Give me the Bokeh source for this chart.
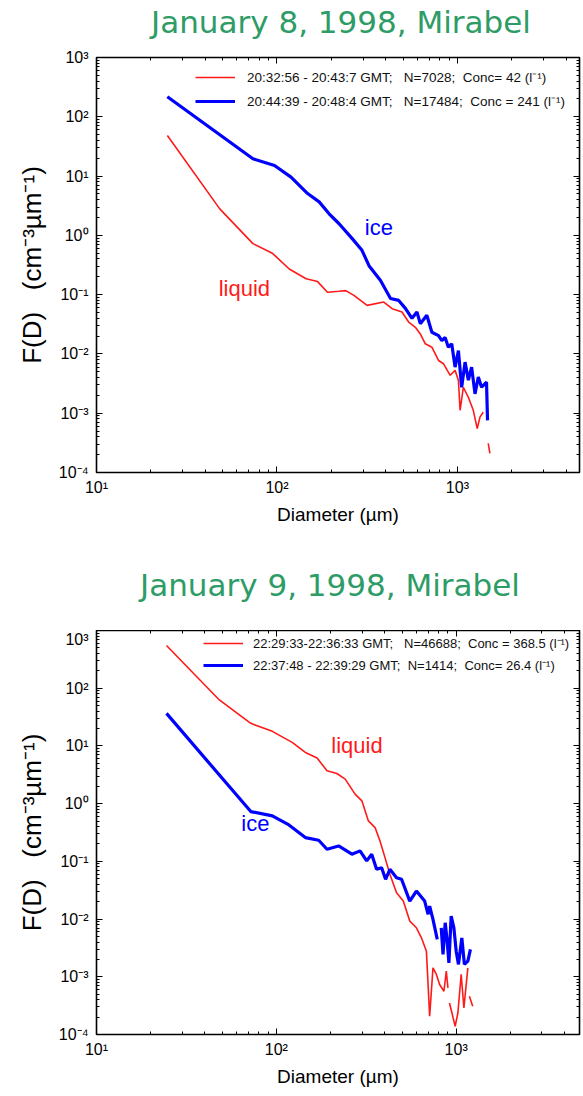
import math
from bokeh.plotting import figure
from bokeh.layouts import column
from bokeh.models import (FixedTicker, CustomJSTickFormatter, LogAxis, Legend, LegendItem,
                          Label, Div)
from bokeh.embed import file_html
from bokeh.resources import INLINE

nan = float("nan")

# ---------------- data: January 8, 1998 ----------------
ice_d_jan8 = [24.7, 73.6, 96.9, 119.7, 147.9, 171.4, 194.6, 221, 260.6, 296, 323.6, 375, 426, 473,
              515, 560, 597, 623, 677, 722, 786, 820, 855, 891, 930, 971, 1013, 1056, 1103, 1150,
              1199, 1252, 1306, 1361, 1450, 1469]
ice_f_jan8 = [218, 19.6, 15.1, 9.6, 5.07, 3.67, 2.31, 1.57, 0.889, 0.559, 0.308, 0.173, 0.0863,
              0.0799, 0.0587, 0.0399, 0.0510, 0.0324, 0.0449, 0.0232, 0.0204, 0.0168, 0.0190,
              0.0130, 0.0148, 0.00600, 0.0114, 0.00274, 0.00727, 0.00360, 0.00600, 0.00212,
              0.00408, 0.00274, 0.00335, 0.000758]
liq_d_jan8 = [24.7, 48.2, 73.6, 94.8, 117, 145, 168, 190.5, 221, 240.5, 267, 316, 391, 435, 493,
              537, 585, 623, 664, 722, 786, 837, 912, 971, 1013, 1035, 1079, 1150, 1225, 1288,
              1334, 1390, nan, 1482, 1514]
liq_f_jan8 = [48.4, 2.80, 0.725, 0.493, 0.271, 0.185, 0.166, 0.110, 0.114, 0.117, 0.0970,
              0.0659, 0.0749, 0.0580, 0.0510, 0.0345, 0.0281, 0.0217, 0.0148, 0.0130, 0.00776,
              0.00684, 0.00436, 0.00528, 0.00360, 0.00112, 0.00274, 0.00186, 0.00112, 0.000550,
              0.000860, 0.00104, nan, 0.000310, 0.000211]

# ---------------- data: January 9, 1998 ----------------
liq_d_jan9 = [24.5, 48.2, 72.1, 95.0, 122.5, 145, 168.5, 191.3, 217, 241.5, 274, 299, 325, 354,
              377, 402, 428, 466, 508, 552, 601, 641, 683, 712, 743, 776, 809, 855, 881, 900, nan,
              918, 987, 1022, 1066, 1104, 1161, nan, 1184, 1236]
liq_f_jan9 = [550, 62.6, 24.6, 17.9, 11.5, 7.71, 6.17, 3.71, 3.33, 2.66, 1.46, 1.12, 0.502, 0.385,
              0.226, 0.116, 0.0597, 0.0286, 0.0205, 0.00923, 0.00706, 0.00473, 0.00278, 0.000207,
              0.00143, 0.00110, 0.000735, 0.000562, 0.00125, 0.000641, nan, 0.000352, 0.000139,
              0.000236, 0.00110, 0.000288, 0.00143, nan, 0.000460, 0.000309]
ice_d_jan9 = [24.5, 72.1, 95.0, 117.5, 145, 172, 191.3, 222, 263, 292, 318, 339, 361, 385, 405,
              428, 466, 497, 552, 601, 668, 698, 712, 743, 785, nan, 826, 845, 869, 891, 911, 938,
              971, 1000, 1030, 1075, 1111, 1161, 1200]
ice_f_jan9 = [36.6, 0.729, 0.614, 0.428, 0.258, 0.232, 0.162, 0.185, 0.133, 0.152, 0.102, 0.133,
              0.0729, 0.0778, 0.0489, 0.0729, 0.0521, 0.0489, 0.0205, 0.0306, 0.0205, 0.0121,
              0.0168, 0.00989, 0.00444, nan, 0.00706, 0.00244, 0.00863, 0.00415, 0.00174, 0.0113,
              0.00706, 0.00278, 0.00164, 0.00473, 0.00164, 0.00187, 0.00298]

titles = ["January 8, 1998, Mirabel", "January 9, 1998, Mirabel"]
legend_jan8 = ["20:32:56 - 20:43:7 GMT;   N=7028;  Conc= 42 (l\u207b\u00b9)",
               "20:44:39 - 20:48:4 GMT;   N=17484;  Conc = 241 (l\u207b\u00b9)"]
legend_jan9 = ["22:29:33-22:36:33 GMT;   N=46688;  Conc = 368.5 (l\u207b\u00b9)",
               "22:37:48 - 22:39:29 GMT;  N=1414;  Conc= 26.4 (l\u207b\u00b9)"]
x_label = "Diameter (\u00b5m)"
y_label = "F(D)\u00a0\u00a0\u00a0(cm\u207b\u00b3\u00b5m\u207b\u00b9)"

RED = "#ff1a1a"
BLUE = "#0000ff"
GREEN = "#2e9c66"
FONT = "Liberation Sans"

sup_js = """
const sup = {"-":"\u207b","0":"\u2070","1":"\u00b9","2":"\u00b2","3":"\u00b3","4":"\u2074",
             "5":"\u2075","6":"\u2076","7":"\u2077","8":"\u2078","9":"\u2079"};
const e = Math.round(Math.log10(tick));
return "10" + String(e).split("").map(c => sup[c]).join("");
"""


def decade_ticks(lo, hi):
    major = [10.0 ** e for e in range(lo, hi + 1)]
    minor = [m * 10.0 ** e for e in range(lo, hi + 1) for m in range(2, 10)]
    return major, minor


def style_axis(ax, labels=True):
    ax.major_tick_in = 6
    ax.major_tick_out = 0
    ax.minor_tick_in = 3
    ax.minor_tick_out = 0
    ax.major_tick_line_color = "black"
    ax.minor_tick_line_color = "black"
    ax.axis_line_color = None
    ax.major_label_text_font = FONT
    ax.major_label_text_font_size = "16px"
    ax.major_label_text_color = "black"
    if labels:
        ax.formatter = CustomJSTickFormatter(code=sup_js)
    else:
        ax.formatter = CustomJSTickFormatter(code="return '';")
        ax.major_label_standoff = 0


def title_div(text, height, pad_left):
    return Div(text=text, width=583, height=height,
               styles={"font-family": "DejaVu Sans", "font-size": "31px", "color": GREEN,
                       "text-align": "center", "line-height": f"{height}px",
                       "padding-left": f"{pad_left}px", "box-sizing": "border-box",
                       "white-space": "nowrap", "margin": "0", "overflow": "visible"})


def make_plot(height, mb_left, mb_right, mb_top, mb_bottom, xmax,
              liq_d, liq_f, ice_d, ice_f, leg_texts, leg_loc, leg_lh, leg_standoff, leg_fs,
              labels_pos):
    p = figure(width=583, height=height, x_axis_type="log", y_axis_type="log",
               x_range=(10, xmax), y_range=(1e-4, 1e3), output_backend="svg",
               toolbar_location=None, min_border_left=mb_left, min_border_right=mb_right,
               min_border_top=mb_top, min_border_bottom=mb_bottom)
    p.xgrid.visible = False
    p.ygrid.visible = False
    p.outline_line_color = "black"
    p.outline_line_width = 1.6
    p.background_fill_color = "white"
    p.border_fill_color = "white"

    xmaj, xmin = decade_ticks(1, 3)
    ymaj, ymin = decade_ticks(-4, 3)
    p.xaxis.ticker = FixedTicker(ticks=xmaj, minor_ticks=xmin)
    p.yaxis.ticker = FixedTicker(ticks=ymaj, minor_ticks=ymin)
    for ax in p.xaxis:
        style_axis(ax)
        ax.axis_label = x_label
        ax.axis_label_text_font = FONT
        ax.axis_label_text_font_size = "19px"
        ax.axis_label_text_font_style = "normal"
        ax.axis_label_text_color = "black"
        ax.major_label_standoff = 6
        ax.axis_label_standoff = 5
    for ax in p.yaxis:
        style_axis(ax)
        ax.axis_label = y_label
        ax.axis_label_text_font = FONT
        ax.axis_label_text_font_size = "26px"
        ax.axis_label_text_font_style = "normal"
        ax.axis_label_text_color = "black"
        ax.major_label_standoff = 8
        ax.axis_label_standoff = 9
        ax.major_label_orientation = "horizontal"

    top_ax = LogAxis(ticker=FixedTicker(ticks=xmaj, minor_ticks=xmin))
    style_axis(top_ax, labels=False)
    p.add_layout(top_ax, "above")
    right_ax = LogAxis(ticker=FixedTicker(ticks=ymaj, minor_ticks=ymin))
    style_axis(right_ax, labels=False)
    p.add_layout(right_ax, "right")

    r_liq = p.line(liq_d, liq_f, line_color=RED, line_width=1.6)
    r_ice = p.line(ice_d, ice_f, line_color=BLUE, line_width=3.2)

    items = [LegendItem(label=leg_texts[0], renderers=[r_liq]),
             LegendItem(label=leg_texts[1], renderers=[r_ice])]
    leg = Legend(items=items, location=leg_loc, padding=0, spacing=4, margin=0,
                 glyph_width=40, glyph_height=leg_lh, label_height=leg_lh,
                 label_standoff=leg_standoff, label_text_font=FONT, label_text_font_size=leg_fs,
                 label_text_color="#111111",
                 border_line_alpha=0, background_fill_alpha=0)
    p.add_layout(leg)

    for (txt, color, x, y) in labels_pos:
        p.add_layout(Label(x=x, y=y, text=txt, text_color=color, text_font=FONT,
                           text_font_size="22px", text_align="center",
                           text_baseline="middle"))
    return p


div1 = title_div(titles[0], 44, 99)
p1 = make_plot(496, 96, 1, 13, 68, 4750,
               liq_d_jan8, liq_f_jan8, ice_d_jan8, ice_f_jan8,
               legend_jan8, (99, 361), 20, 12, "13.5px",
               [("ice", BLUE, 367, 1.35), ("liquid", RED, 66, 0.127)])
div2 = title_div(titles[1], 90, 77)
p2 = make_plot(466, 93, 4, 0, 62, 4850,
               liq_d_jan9, liq_f_jan9, ice_d_jan9, ice_f_jan9,
               legend_jan9, (107, 360), 18, 10, "13px",
               [("liquid", RED, 281, 10), ("ice", BLUE, 76.5, 0.46)])

layout = column(div1, p1, div2, p2, spacing=0)
open("out.html", "w").write(file_html(layout, INLINE))
